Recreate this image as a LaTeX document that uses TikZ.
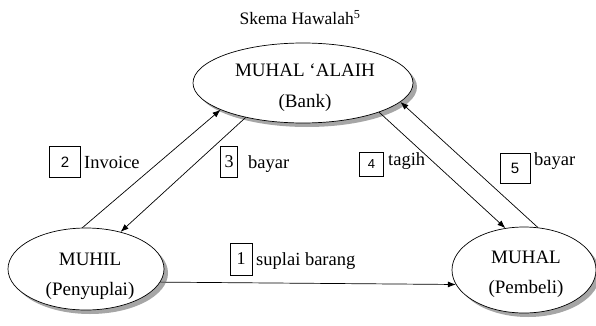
\documentclass[tikz,border=0pt]{standalone}
\usepackage{fontspec}
\setmainfont{Liberation Serif}
\newfontfamily\digitfont{Liberation Sans}
\usetikzlibrary{shapes.geometric,shadows,arrows.meta}
\begin{document}
\begin{tikzpicture}[x=1pt,y=-1pt,
  party/.style={ellipse,draw,fill=white,line width=0.7pt,inner sep=0pt,
    drop shadow={shadow xshift=4pt,shadow yshift=-4pt,fill=black!35,opacity=1}},
  ptext/.style={anchor=base,inner sep=0pt,font=\fontsize{19}{22}\selectfont},
  numbox/.style={draw,line width=0.7pt,inner sep=0pt,font=\fontsize{18}{20}\selectfont},
  lbl/.style={anchor=base west,inner sep=0pt,font=\fontsize{18.5}{20}\selectfont},
  flow/.style={line width=0.7pt,-{Latex[length=8pt,width=6pt]}}]
\useasboundingbox (0,0) rectangle (596,326);
\node[anchor=base,inner sep=0pt,font=\fontsize{17.5}{20}\selectfont] (title) at (300,25) {Skema Hawalah\textsuperscript{5}};
\node[party,minimum width=220pt,minimum height=80pt] (bank) at (303,83) {};
\node[party,minimum width=156pt,minimum height=82pt] (muhil) at (86,269) {};
\node[party,minimum width=144pt,minimum height=86pt] (muhal) at (524,270) {};
\node[ptext] (bank1) at (305,77) {MUHAL ‘ALAIH};
\node[ptext] (bank2) at (305,107) {(Bank)};
\node[ptext] (muhil1) at (90,265) {MUHIL};
\node[ptext] (muhil2) at (90,295) {(Penyuplai)};
\node[ptext] (muhal1) at (526,263) {MUHAL};
\node[ptext] (muhal2) at (526,293) {(Pembeli)};
% connectors
\draw[flow] (muhil.95) -- (bank.198);
\draw[flow] (bank.211) -- (muhil.47);
\draw[flow] (bank.339) -- (muhal.114);
\draw[flow] (muhal.72) -- (bank.349);
\draw[flow] (muhil.350) -- (muhal.192);
% labels
\node[numbox,minimum width=31pt,minimum height=31pt,font=\digitfont\fontsize{15}{17}\selectfont] (n2) at (65,162) {2};
\node[lbl] (t2) at (84,168) {Invoice};
\node[numbox,minimum width=17pt,minimum height=31pt] (n3) at (229,162) {3};
\node[lbl] (t3) at (248,168) {bayar};
\node[numbox,minimum width=22pt,minimum height=32pt] (n1) at (241,259) {1};
\node[lbl] (t1) at (256,265) {suplai barang};
\node[numbox,minimum width=24pt,minimum height=24pt,font=\digitfont\fontsize{13}{15}\selectfont] (n4) at (371.5,164.5) {4};
\node[lbl] (t4) at (388,165) {tagih};
\node[numbox,minimum width=30pt,minimum height=30pt,font=\digitfont\fontsize{15}{17}\selectfont] (n5) at (515,168) {5};
\node[lbl] (t5) at (534,165) {bayar};
\end{tikzpicture}
\end{document}
